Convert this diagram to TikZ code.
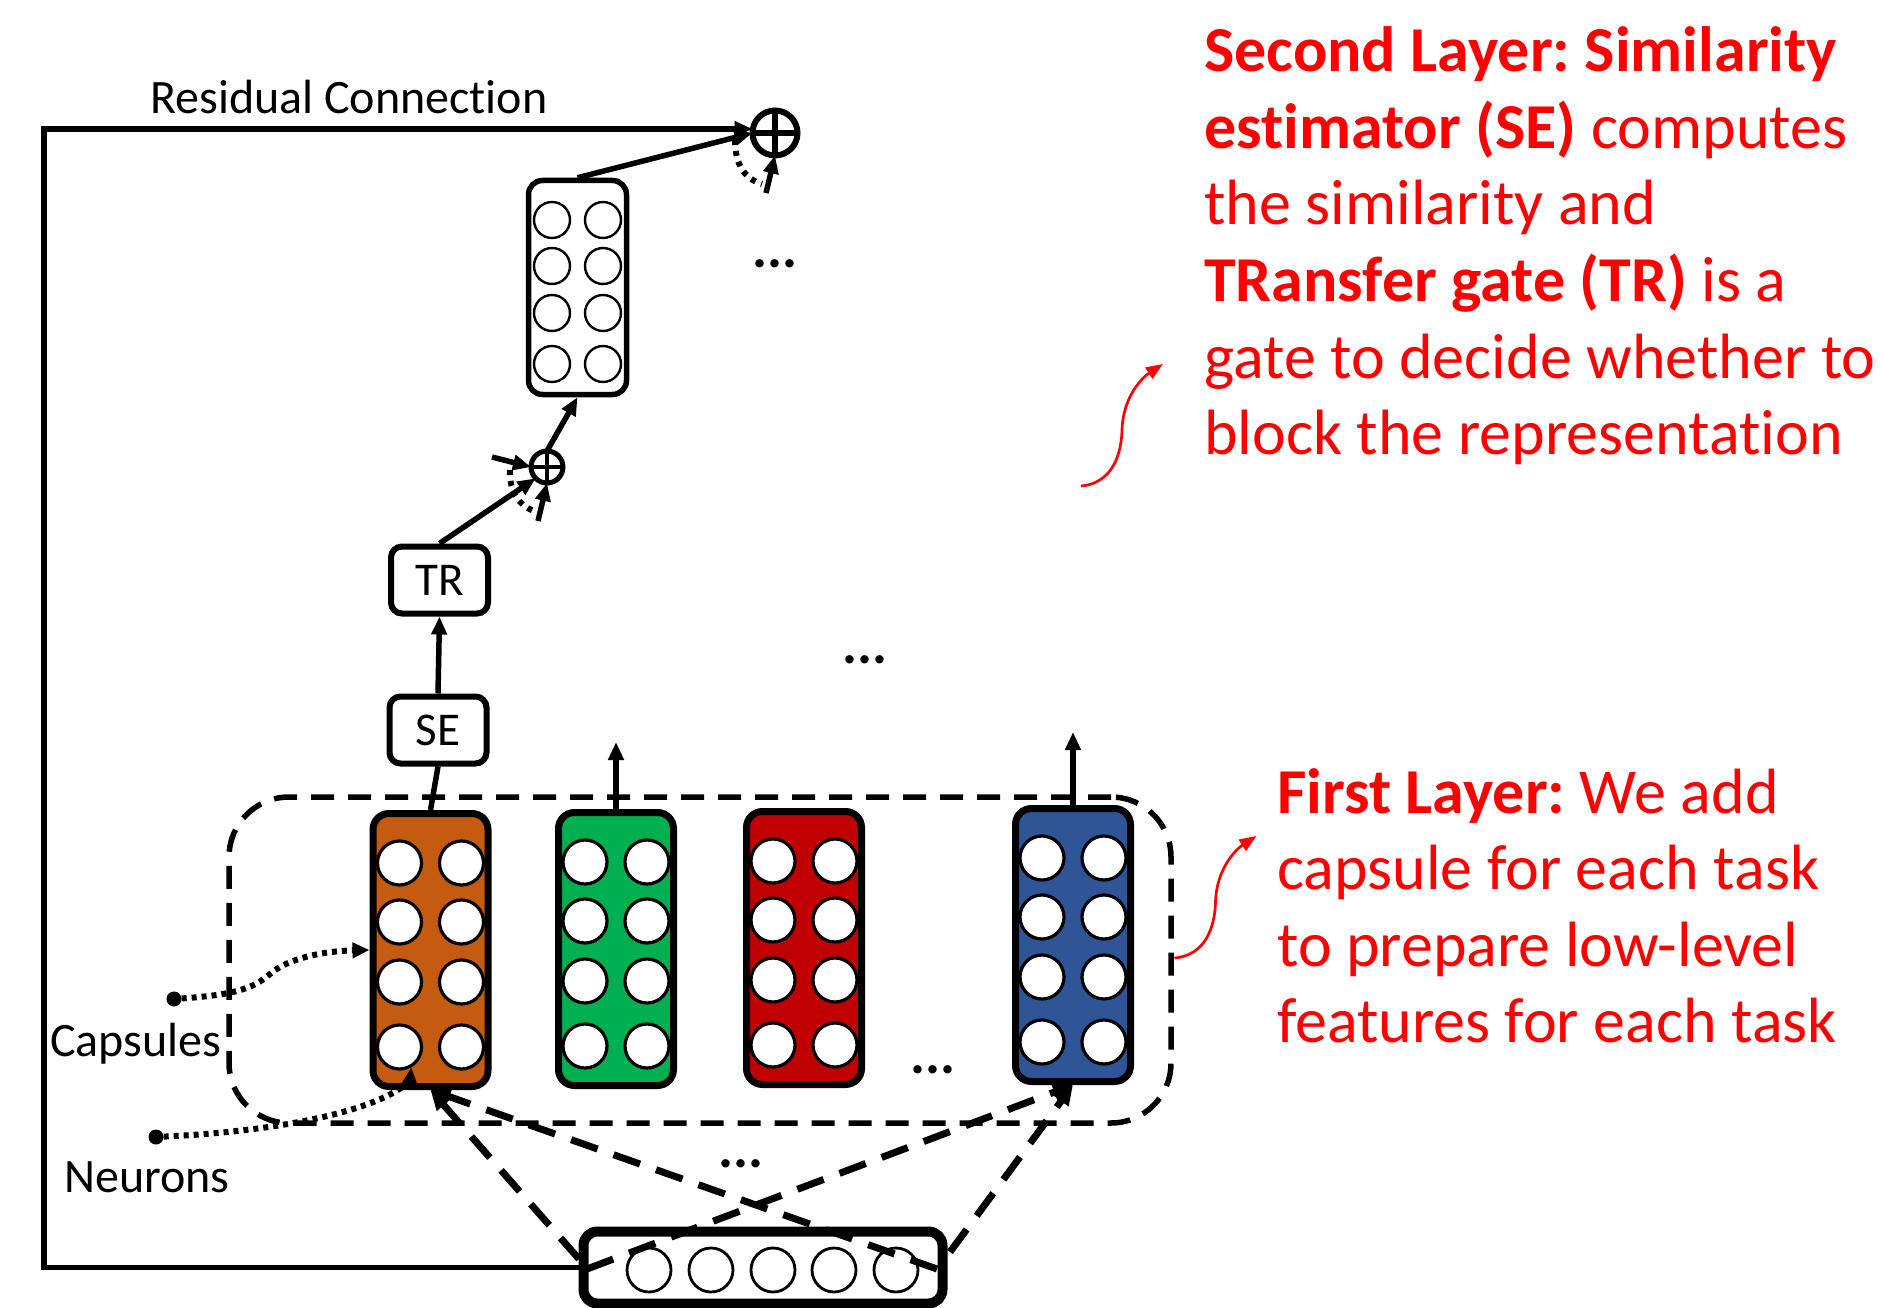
\documentclass[tikz,border=0pt]{standalone}
\usepackage{fontspec}
\setmainfont{Carlito}[Ligatures={NoCommon}]
\usetikzlibrary{arrows.meta}
\definecolor{caporange}{HTML}{C55A11}
\definecolor{capgreen}{HTML}{00B050}
\definecolor{capred}{HTML}{C00000}
\definecolor{capblue}{HTML}{2F5597}
\definecolor{notered}{HTML}{FF0000}
\frenchspacing
\newcommand\capsulewith[4]{%
  \node[capsule, fill=#4] (#1) at (#2,#3) {};
  \foreach \dx/\c in {-31/a,31/b}{
    \foreach \dy/\r in {-87/1,-28/2,32/3,97/4}{
      \node[neuron] (#1-\c\r) at ({#2+\dx},{#3+\dy}) {};
    }
  }
}
\begin{document}
\begin{tikzpicture}[x=1pt,y=-1pt,
  capsule/.style={draw=black, line width=7pt, rounded corners=16pt, minimum width=115pt, minimum height=273pt, inner sep=0pt},
  neuron/.style={circle, draw=black, fill=white, line width=3.2pt, minimum size=44pt, inner sep=0pt},
  smallneuron/.style={circle, draw=black, fill=white, line width=2.4pt, minimum size=36pt, inner sep=0pt},
  opbox/.style={draw, line width=6pt, rounded corners=11pt, minimum width=97pt, minimum height=67pt, inner sep=0pt, font=\fontsize{47}{50}\selectfont},
  plusnode/.style={circle, draw, inner sep=0pt, outer sep=0pt},
  tipT/.style={-{Triangle[length=18pt,width=15pt]}},
  conn/.style={line width=5.5pt, tipT},
  dashconn/.style={line width=7pt, dash pattern=on 28pt off 17pt, -{Triangle[length=20pt,width=17pt]}},
  dotconn/.style={line width=6pt, dash pattern=on 5pt off 5pt, -{Triangle[length=17pt,width=15pt]}},
  dotarc/.style={line width=6pt, dash pattern=on 5pt off 6pt},
  lbl/.style={font=\fontsize{48}{56}\selectfont, inner sep=0pt},
  dots/.style={font=\fontsize{56}{60}\selectfont\bfseries, inner sep=0pt, anchor=base},
  note/.style={text=notered, font=\fontsize{64}{76}\selectfont, inner sep=0pt, anchor=base west},
  notearrow/.style={draw=notered, line width=2.7pt, -{Triangle[length=17pt,width=13pt]}}
]
\useasboundingbox (0,0) rectangle (1883,1308);
\fill[white] (0,0) rectangle (1883,1308);

% ---------- first layer group ----------
\node[draw, line width=5.5pt, dash pattern=on 23pt off 14pt, rounded corners=60pt,
      minimum width=942pt, minimum height=326pt] (group) at (700,960) {};

\capsulewith{capO}{430.5}{950}{caporange}
\capsulewith{capG}{616}{949}{capgreen}
\capsulewith{capR}{804}{948}{capred}
\capsulewith{capB}{1073}{945}{capblue}

\coordinate (gUp) at (616,742);
\coordinate (bUp) at (1073,732);
\draw[conn] (capG.north) -- (gUp);
\draw[conn] (capB.north) -- (bUp);

% ---------- SE / TR ----------
\node[opbox] (SE) at (438,730) {SE};
\node[opbox] (TR) at (439.5,580) {TR};
\draw[line width=5.5pt] (capO.north) -- (SE.south);
\draw[conn] (SE.north) -- (TR.south);

% ---------- small plus ----------
\node[plusnode, line width=5pt, minimum size=32pt] (plusS) at (547,467) {};
\draw[line width=4.5pt] (plusS.north) -- (plusS.south) (plusS.west) -- (plusS.east);
\draw[conn] (TR.north) -- (plusS.south west);
\coordinate (sIn) at (492,457);
\draw[conn] (sIn) -- (plusS.west);
\coordinate (sArcA) at (510,470);
\coordinate (sArcB) at (534,511);
\draw[dotarc] (sArcA) .. controls (509,490) and (518,505) .. (sArcB);
\coordinate (sIn2) at (538,521);
\draw[conn] (sIn2) -- (plusS.south);

% ---------- top capsule ----------
\node[draw, line width=5.5pt, rounded corners=14pt, minimum width=98pt, minimum height=214pt, fill=white, inner sep=0pt] (capT) at (577.5,287.5) {};
\foreach \dx/\c in {-25.5/a,25.5/b}{
  \foreach \dy/\r in {-67.5/1,-21.5/2,25.5/3,76.5/4}{
    \node[smallneuron] (capT-\c\r) at ({577.5+\dx},{287.5+\dy}) {};
  }
}
\draw[conn] (plusS.north) -- (capT.south);

% ---------- top plus ----------
\node[plusnode, line width=6pt, minimum size=45pt] (plusT) at (775,133) {};
\draw[line width=6pt] (plusT.north) -- (plusT.south) (plusT.west) -- (plusT.east);
\draw[conn] (capT.north) -- (plusT.west);
\coordinate (tArcA) at (735,140);
\coordinate (tArcB) at (762,184);
\draw[dotarc] (tArcA) .. controls (735,165) and (745,179) .. (tArcB);
\coordinate (tIn2) at (766,193);
\draw[conn] (tIn2) -- (plusT.south);

% ---------- input box ----------
\node[draw, line width=10pt, rounded corners=14pt, minimum width=359pt, minimum height=72pt, inner sep=0pt] (inp) at (763,1267.5) {};
\foreach \x/\n in {649/1,711/2,773/3,834/4,896/5}{
  \node[circle, draw, line width=2.8pt, minimum size=44pt, inner sep=0pt] (inp-\n) at (\x,1270) {};
}

% residual connection
\coordinate (resBL) at (44,1267.5);
\coordinate (resTL) at (44,129);
\draw[conn] (inp.west) -- (resBL) -- (resTL) -- (resTL -| plusT.west);
\node[lbl, anchor=base west] (resLbl) at (150,114) {Residual Connection};

% dashed input connections
\coordinate (inL1) at (579,1259);
\coordinate (inL2) at (587,1269);
\coordinate (inR1) at (937,1269);
\coordinate (inR2) at (950,1252);
\draw[dashconn] (inL1) -- (capO.south);
\draw[dashconn] (inR1) -- (capO.south);
\draw[dashconn] (inL2) -- (capB.south);
\draw[dashconn] (inR2) -- (capB.south);

% ---------- capsules / neurons labels ----------
\node[circle, fill=black, minimum size=15pt, inner sep=0pt] (capsDot) at (174,999) {};
\node[circle, fill=black, minimum size=15pt, inner sep=0pt] (neurDot) at (156,1137) {};
\draw[dotconn] (capsDot) .. controls (230,995) and (252,990) .. (270,974) .. controls (288,958) and (325,951) .. (capO.west);
\draw[dotconn] (neurDot) .. controls (260,1132) and (340,1118) .. (385,1097) .. controls (402,1089) and (410,1080) .. (capO-a4.-60);
\node[lbl, anchor=base west] (capsLbl) at (50,1056) {Capsules};
\node[lbl, anchor=base west] (neurLbl) at (64,1192) {Neurons};

% ---------- dots ----------
\node[dots] (dotsA) at (775,268) {...};
\node[dots] (dotsB) at (865,663) {...};
\node[dots] (dotsC) at (933,1073) {...};
\node[dots] (dotsD) at (741,1167) {...};

% ---------- notes ----------
\node[note] (se1) at (1204,72) {\textbf{Second Layer: Similarity}};
\node[note] (se2) at (1204,148.5) {\textbf{estimator (SE)} computes};
\node[note] (se3) at (1204,225) {the similarity and};
\node[note] (se4) at (1204,301.5) {\textbf{TRansfer gate (TR)} is a};
\node[note] (se5) at (1204,378) {gate to decide whether to};
\node[note] (se6) at (1204,454.5) {block the representation};

\node[note] (fl1) at (1277,813) {\textbf{First Layer:} We add};
\node[note] (fl2) at (1277,889.5) {capsule for each task};
\node[note] (fl3) at (1277,966) {to prepare low-level};
\node[note] (fl4) at (1277,1042.5) {features for each task};

\coordinate (nA0) at (1081,486);
\coordinate (nA1) at (1122,430);
\coordinate (nA2) at (1163,364);
\draw[notearrow] (nA0) .. controls (1106,484) and (1121,464) .. (nA1) .. controls (1123,396) and (1143,377) .. (nA2);
\coordinate (nB0) at (1174.5,958);
\coordinate (nB1) at (1215.5,902);
\coordinate (nB2) at (1256.5,836);
\draw[notearrow] (nB0) .. controls (1199.5,956) and (1214.5,936) .. (nB1) .. controls (1216.5,868) and (1236.5,849) .. (nB2);
\end{tikzpicture}
\end{document}
